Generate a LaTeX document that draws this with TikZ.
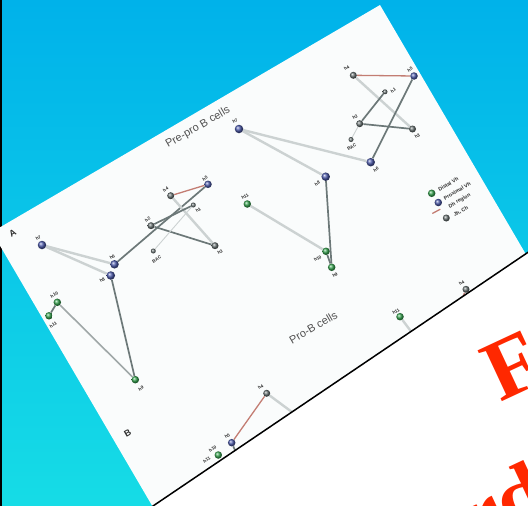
\documentclass[tikz,border=0pt]{standalone}
\usepackage{fontspec}
\setmainfont{Liberation Sans}
\newfontfamily\redserif{Liberation Serif}
\pgfdeclarelayer{back}
\pgfdeclarelayer{edges}
\pgfdeclarelayer{front}
\pgfsetlayers{back,edges,main,front}
\definecolor{bgtop}{RGB}{0,178,234}
\definecolor{bgbot}{RGB}{22,220,230}
\definecolor{pagec}{RGB}{250,252,252}
\definecolor{dkline}{RGB}{108,120,120}
\definecolor{mdline}{RGB}{160,168,168}
\definecolor{ltline}{RGB}{204,210,210}
\definecolor{rdline}{RGB}{195,125,115}
\definecolor{gball}{RGB}{105,115,115}
\definecolor{bball}{RGB}{78,92,172}
\definecolor{grball}{RGB}{55,165,80}
\definecolor{redtxt}{RGB}{255,40,0}
\definecolor{labc}{RGB}{45,45,45}
\definecolor{titc}{RGB}{80,80,80}
\tikzset{
  ballg/.style={circle,inner sep=0pt,minimum size=7pt,ball color=gball},
  ballgs/.style={circle,inner sep=0pt,minimum size=5pt,ball color=gball},
  ballb/.style={circle,inner sep=0pt,minimum size=8.5pt,ball color=bball},
  ballbs/.style={circle,inner sep=0pt,minimum size=7.5pt,ball color=bball},
  ballgr/.style={circle,inner sep=0pt,minimum size=7.5pt,ball color=grball},
  lab/.style={font=\fontsize{4.5}{5}\selectfont\bfseries,text=labc,inner sep=0pt,rotate=30},
  legt/.style={font=\fontsize{5.2}{6}\selectfont\bfseries,text=labc,inner sep=0pt,rotate=30,anchor=west},
  panl/.style={font=\fontsize{9}{10}\selectfont\bfseries,text=labc,inner sep=0pt,rotate=30},
  titl/.style={font=\fontsize{11}{12}\selectfont,text=titc,inner sep=0pt,rotate=30},
  redt/.style={font=\redserif\bfseries\fontsize{86}{90}\selectfont,text=redtxt,inner sep=0pt,rotate=25,anchor=base west},
  dk/.style={draw=dkline,line width=1.7pt},
  md/.style={draw=mdline,line width=1.6pt},
  lt/.style={draw=ltline,line width=2.4pt},
  ltt/.style={draw=ltline,line width=0.9pt},
  rl/.style={draw=rdline,line width=1.3pt},
}
\begin{document}
\begin{tikzpicture}[x=1pt,y=-1pt]
\useasboundingbox (0,0) rectangle (528,506);
\clip (0,0) rectangle (528,506);
\begin{pgfonlayer}{back}
  \shade[top color=bgtop,bottom color=bgbot] (0,0) rectangle (528,506);
  \fill[black] (0,0) rectangle (1.5,506);
  \fill[pagec] (-8,232) -- (380,5) -- (540,278.4) -- (540,520) -- (160.5,520) -- cycle;
\end{pgfonlayer}

% ---- titles and panel letters
\node[titl] (t1) at (198,127.5) {Pre-pro B cells};
\node[titl] (t2) at (313.3,327.5) {Pro-B cells};
\node[panl] (pA) at (12.7,233.3) {A};
\node[panl] (pB) at (127.7,433.3) {B};

% ---- left cluster (A, first)
\node[ballb] (a7) at (42,245) {};
\node[ballb] (a6) at (114.5,264.3) {};
\node[ballb] (a8) at (110.8,275.5) {};
\node[ballg] (a2) at (151,225.7) {};
\node[ballg] (a4) at (170.7,195.7) {};
\node[ballbs] (a5) at (208,184.3) {};
\node[ballgs] (a1) at (193.3,205) {};
\node[ballg] (a3) at (215,245.7) {};
\node[ballgs] (aB) at (153.3,251) {};
\node[ballgr] (a10) at (57.3,302.3) {};
\node[ballgr] (a11) at (49,315.8) {};
\node[ballgr] (a9) at (135.3,379.7) {};
\node[lab] (La7) at (38.3,237.7) {h7};
\node[lab] (La6) at (112.3,256.7) {h6};
\node[lab] (La8) at (102.3,280) {h8};
\node[lab] (La10) at (54.3,295) {h10};
\node[lab] (La11) at (53.3,325) {h11};
\node[lab] (La9) at (141,388.3) {h9};
\node[lab] (La2) at (147.7,219.3) {h2};
\node[lab] (La4) at (165.7,189.3) {h4};
\node[lab] (La5) at (205,178.3) {h5};
\node[lab] (La1) at (198.3,210) {h1};
\node[lab] (La3) at (220,251.7) {h3};
\node[lab] (LaB) at (156.7,259.3) {BAC};

% ---- right cluster (A, second)
\node[ballg] (b4) at (353.3,75.3) {};
\node[ballbs] (b5) at (414,76) {};
\node[ballgs] (b1) at (385,91.8) {};
\node[ballg] (b2) at (359.7,123.7) {};
\node[ballg] (b3) at (412.5,129) {};
\node[ballgs] (bB) at (351,139.5) {};
\node[ballb] (b6) at (370.7,162.2) {};
\node[ballb] (b7) at (239,129) {};
\node[ballb] (b8) at (325.7,176.7) {};
\node[ballgr] (b11) at (247.3,204) {};
\node[ballgr] (b10) at (326,251.3) {};
\node[ballgr] (b9) at (331.7,267.3) {};
\node[lab] (Lb4) at (346.7,68) {h4};
\node[lab] (Lb5) at (410,69.3) {h5};
\node[lab] (Lb1) at (393.3,90.3) {h1};
\node[lab] (Lb2) at (355,117) {h2};
\node[lab] (Lb3) at (417.3,136) {h3};
\node[lab] (LbB) at (351.7,147) {BAC};
\node[lab] (Lb6) at (376,169.3) {h6};
\node[lab] (Lb7) at (235,121) {h7};
\node[lab] (Lb8) at (317.3,183.3) {h8};
\node[lab] (Lb11) at (245,196.7) {h11};
\node[lab] (Lb10) at (317.7,258.3) {h10};
\node[lab] (Lb9) at (335,275) {h9};

% ---- legend
\node[ballgr] (lg1) at (431.7,193.3) {};
\node[ballbs] (lg2) at (438.3,202.5) {};
\coordinate (lr1) at (432.3,213.5);
\coordinate (lr2) at (440.3,209.2);
\node[ballg] (lg4) at (446.3,218) {};
\node[legt] (lt1) at (438.5,190) {Distal Vh};
\node[legt] (lt2) at (444,198.5) {Proximal Vh};
\node[legt] (lt3) at (449,207) {Dh region};
\node[legt] (lt4) at (454,215.5) {Jh, Ch};

% ---- panel B
\node[ballgr] (c11) at (400,316.7) {};
\node[ballg] (c4t) at (466,289.3) {};
\node[ballg] (c4) at (266.7,393.3) {};
\node[ballbs] (c5) at (231.7,442.7) {};
\node[ballgr] (c10) at (218.3,455) {};
\coordinate (e1) at (416,338);
\coordinate (e2) at (460,304);
\coordinate (e3) at (300,418);
\coordinate (e4) at (238,457);
\node[lab] (Lc11) at (396,311.7) {h11};
\node[lab] (Lc4t) at (461.7,282.7) {h4};
\node[lab] (Lc4) at (260.7,386.7) {h4};
\node[lab] (Lc5) at (227.3,436) {h5};
\node[lab] (Lc10) at (212.7,449) {h10};
\node[lab] (Lc11b) at (206.7,460) {h11};

\begin{pgfonlayer}{edges}
  % left cluster
  \draw[lt] (a7) -- (a6);
  \draw[lt] (a7) -- (a8);
  \draw[dk] (a6) -- (a5);
  \draw[rl] (a4) -- (a5);
  \draw[lt] (a4) -- (a3);
  \draw[dk] (a2) -- (a3);
  \draw[dk] (a2) -- (a1);
  \draw[ltt] (aB) -- (a1);
  \draw[dk] (a8) -- (a9);
  \draw[md] (a9) -- (a10);
  \draw[dk] (a10) -- (a11);
  % right cluster
  \draw[rl] (b4) -- (b5);
  \draw[lt] (b4) -- (b3);
  \draw[dk] (b1) -- (b2);
  \draw[dk] (b2) -- (b3);
  \draw[ltt] (b2) -- (bB);
  \draw[dk] (b5) -- (b6);
  \draw[lt] (b6) -- (b7);
  \draw[lt] (b7) -- (b8);
  \draw[dk] (b8) -- (b9);
  \draw[dk] (b10) -- (b9);
  \draw[lt] (b11) -- (b10);
  % legend
  \draw[rl] (lr1) -- (lr2);
  % panel B
  \draw[lt] (c11) -- (e1);
  \draw[rl] (c4t) -- (e2);
  \draw[lt] (c4) -- (e3);
  \draw[rl] (c4) -- (c5);
  \draw[dk] (c5) -- (e4);
\end{pgfonlayer}

\begin{pgfonlayer}{front}
  \fill[white] (540,244.2) -- (132.3,520) -- (540,520) -- cycle;
  \draw[black,line width=1.5pt] (540,244.2) -- (132.3,520);
  \node[redt] (rF) at (500,403) {F};
  \node[redt] (rd) at (476,549) {rd};
\end{pgfonlayer}
\end{tikzpicture}
\end{document}
